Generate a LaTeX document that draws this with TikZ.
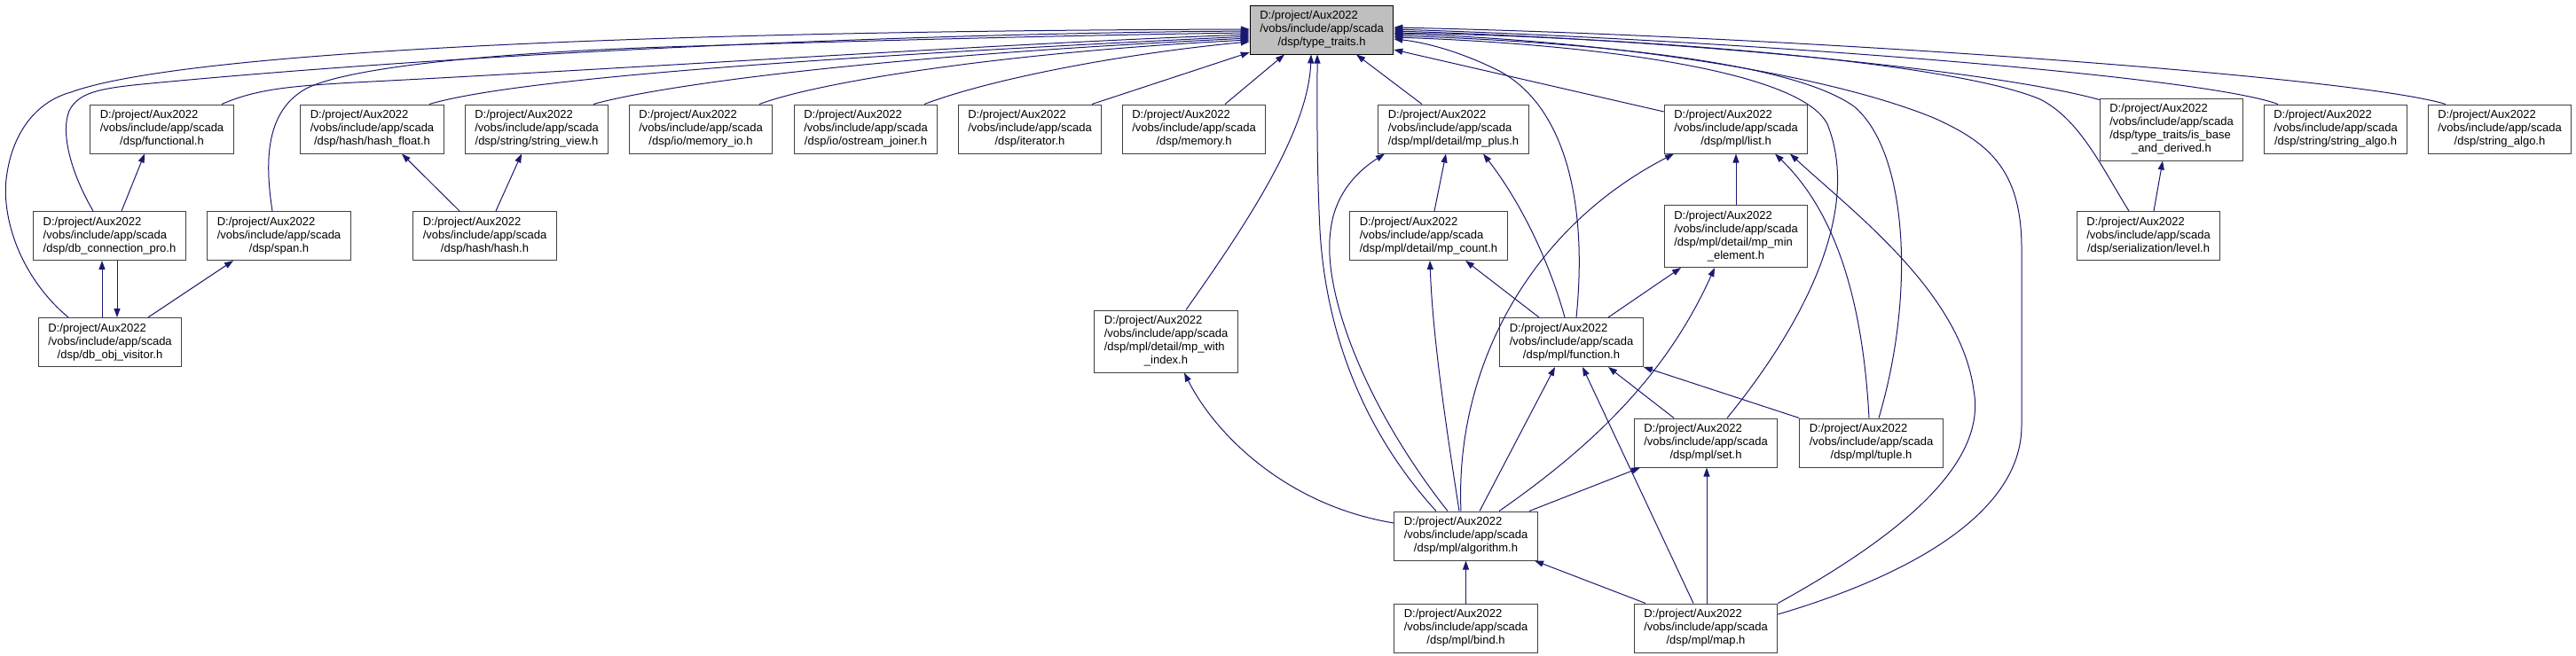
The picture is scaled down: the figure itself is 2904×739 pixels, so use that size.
\documentclass[tikz,border=0pt]{standalone}
\usepackage{fontspec}
\setmainfont{Liberation Sans}
\usetikzlibrary{arrows.meta}
\definecolor{edgeblue}{RGB}{25,25,112}
\definecolor{boxgray}{RGB}{64,64,64}
\definecolor{rootgray}{RGB}{191,191,191}
\newcommand{\incfile}[1]{\begin{tabular}{@{}l@{}}D:/project/Aux2022\\/vobs/include/app/scada\\\multicolumn{1}{@{}c@{}}{#1}\end{tabular}}
\newcommand{\incfilelong}[2]{\begin{tabular}{@{}l@{}}D:/project/Aux2022\\/vobs/include/app/scada\\#1\\\multicolumn{1}{@{}c@{}}{#2}\end{tabular}}
\begin{document}
\begin{tikzpicture}[x=1pt,y=-1pt,
  file/.style={draw=boxgray,line width=1pt,fill=white,inner xsep=11pt,inner ysep=5pt,minimum height=55pt,font=\fontsize{13}{15}\selectfont},
  root/.style={file,draw=black,fill=rootgray},
  inc/.style={edgeblue,line width=1pt,-{Triangle[length=10pt,width=7pt]}}]
\useasboundingbox (0,0) rectangle (2904,739);

\node[root] (typetraits) at (1490,33.5) {\incfile{/dsp/type\_traits.h}};
\node[file] (functional) at (182.5,145.5) {\incfile{/dsp/functional.h}};
\node[file] (hashfloat) at (419.5,145.5) {\incfile{/dsp/hash/hash\_float.h}};
\node[file] (stringview) at (605,145.5) {\incfile{/dsp/string/string\_view.h}};
\node[file] (memoryio) at (790,145.5) {\incfile{/dsp/io/memory\_io.h}};
\node[file] (ostreamjoiner) at (976,145.5) {\incfile{/dsp/io/ostream\_joiner.h}};
\node[file] (iterator) at (1161,145.5) {\incfile{/dsp/iterator.h}};
\node[file] (memory) at (1346,145.5) {\incfile{/dsp/memory.h}};
\node[file] (mpplus) at (1638.5,145.5) {\incfile{/dsp/mpl/detail/mp\_plus.h}};
\node[file] (list) at (1957,145.5) {\incfile{/dsp/mpl/list.h}};
\node[file] (isbase) at (2448,146) {\incfilelong{/dsp/type\_traits/is\_base}{\_and\_derived.h}};
\node[file] (stringalgos) at (2633,145.5) {\incfile{/dsp/string/string\_algo.h}};
\node[file] (stringalgo) at (2818,145.5) {\incfile{/dsp/string\_algo.h}};
\node[file] (dbconn) at (123.5,266) {\incfile{/dsp/db\_connection\_pro.h}};
\node[file] (span) at (314.5,266) {\incfile{/dsp/span.h}};
\node[file] (hash) at (546.5,266) {\incfile{/dsp/hash/hash.h}};
\node[file] (mpcount) at (1610.5,266) {\incfile{/dsp/mpl/detail/mp\_count.h}};
\node[file] (mpmin) at (1957,266.5) {\incfilelong{/dsp/mpl/detail/mp\_min}{\_element.h}};
\node[file] (level) at (2422,266) {\incfile{/dsp/serialization/level.h}};
\node[file] (dbvisitor) at (124,386) {\incfile{/dsp/db\_obj\_visitor.h}};
\node[file] (mpwith) at (1314.5,385) {\incfilelong{/dsp/mpl/detail/mp\_with}{\_index.h}};
\node[file] (function) at (1771.5,386) {\incfile{/dsp/mpl/function.h}};
\node[file] (set) at (1923,499.5) {\incfile{/dsp/mpl/set.h}};
\node[file] (tuple) at (2109.5,499.5) {\incfile{/dsp/mpl/tuple.h}};
\node[file] (algorithm) at (1652.5,604.5) {\incfile{/dsp/mpl/algorithm.h}};
\node[file] (bind) at (1652.5,708.5) {\incfile{/dsp/mpl/bind.h}};
\node[file] (map) at (1923,708.5) {\incfile{/dsp/mpl/map.h}};

\draw[inc] ([xshift=-47pt]dbvisitor.north) .. controls (20,310) and (0,240) .. (8,195) .. controls (15,150) and (40,115) .. (80,104) .. controls (200,60) and (700,35) .. ([yshift=0.5pt]typetraits.west);
\draw[inc] ([xshift=-18.5pt]dbconn.north) .. controls (80,195) and (68,150) .. (78,125) .. controls (88,105) and (110,100) .. (160,95) .. controls (500,62) and (1000,38) .. ([yshift=-1.5pt]typetraits.west);
\draw[inc] ([xshift=67.5pt]functional.north) .. controls (290,100) and (330,97) .. (400,93) .. controls (750,75) and (1150,48) .. ([yshift=-5.5pt]typetraits.west);
\draw[inc] ([xshift=-7.5pt]span.north) .. controls (298,180) and (300,125) .. (345,100) .. controls (400,72) and (600,58) .. (750,53) .. controls (1000,45) and (1250,39) .. ([yshift=-3.5pt]typetraits.west);
\draw[inc] ([xshift=64.5pt]hashfloat.north) .. controls (560,95) and (800,70) .. ([yshift=-7.5pt]typetraits.west);
\draw[inc] ([xshift=64pt]stringview.north) .. controls (730,100) and (950,65) .. ([yshift=-9.5pt]typetraits.west);
\draw[inc] ([xshift=66pt]memoryio.north) .. controls (930,90) and (1150,58) .. ([yshift=-11.5pt]typetraits.west);
\draw[inc] ([xshift=66pt]ostreamjoiner.north) .. controls (1120,88) and (1270,60) .. ([yshift=-13.5pt]typetraits.west);
\draw[inc] ([xshift=70pt]iterator.north) -- ([yshift=-25.5pt]typetraits.west);
\draw[inc] ([xshift=35pt]memory.north) -- ([xshift=-42pt]typetraits.south);
\draw[inc] ([xshift=22.5pt]mpwith.north) .. controls (1400,260) and (1475,150) .. ([xshift=-12pt]typetraits.south);
\draw[inc] ([xshift=-33.5pt]algorithm.north) .. controls (1540,490) and (1495,380) .. (1488,260) .. controls (1484,180) and (1485,110) .. ([xshift=-5pt]typetraits.south);
\draw[inc] ([xshift=-35.5pt]mpplus.north) -- ([xshift=39pt]typetraits.south);
\draw[inc] ([xshift=5.5pt]function.north) .. controls (1790,230) and (1765,120) .. (1690,80) .. controls (1640,55) and (1600,47) .. ([yshift=-10.5pt]typetraits.east);
\draw[inc] ([yshift=19.5pt]list.west) -- ([yshift=-22.5pt]typetraits.east);
\draw[inc] ([xshift=24pt]set.north) .. controls (2030,370) and (2100,240) .. (2060,140) .. controls (2030,80) and (1800,50) .. ([yshift=-8.5pt]typetraits.east);
\draw[inc] ([xshift=8.5pt]tuple.north) .. controls (2160,330) and (2150,170) .. (2090,120) .. controls (2020,70) and (1800,48) .. ([yshift=-6.5pt]typetraits.east);
\draw[inc] ([yshift=15.5pt]map.east) .. controls (2150,650) and (2279,580) .. (2279,480) -- (2279,280) .. controls (2279,190) and (2240,160) .. (2180,133) .. controls (2050,80) and (1800,45) .. ([yshift=-4.5pt]typetraits.east);
\draw[inc] ([xshift=-22pt]level.north) .. controls (2370,190) and (2345,135) .. (2300,112) .. controls (2200,70) and (1850,42) .. ([yshift=-3.5pt]typetraits.east);
\draw[inc] ([yshift=-2pt]isbase.north west) .. controls (2250,80) and (1900,45) .. ([yshift=-1.5pt]typetraits.east);
\draw[inc] ([xshift=-65pt]stringalgos.north) .. controls (2480,85) and (1950,45) .. ([yshift=0.5pt]typetraits.east);
\draw[inc] ([xshift=-61pt]stringalgo.north) .. controls (2650,85) and (2000,40) .. ([yshift=2.5pt]typetraits.east);

\draw[inc] ([xshift=13.5pt]dbconn.north) -- ([xshift=-19.5pt]functional.south);
\draw[inc] ([xshift=-9pt]dbvisitor.north) -- ([xshift=-8.5pt]dbconn.south);
\draw[inc] ([xshift=8.5pt]dbconn.south) -- ([xshift=8pt]dbvisitor.north);
\draw[inc] ([xshift=43pt]dbvisitor.north) -- ([xshift=-51.5pt]span.south);
\draw[inc] ([xshift=-28.5pt]hash.north) -- ([xshift=33.5pt]hashfloat.south);
\draw[inc] ([xshift=12.5pt]hash.north) -- ([xshift=-17pt]stringview.south);
\draw[inc] ([xshift=6pt]level.north) -- ([xshift=-10pt]isbase.south);

\draw[inc] ([xshift=6.5pt]mpcount.north) -- ([xshift=-8.5pt]mpplus.south);
\draw[inc] ([xshift=-7.5pt]function.north) .. controls (1745,290) and (1712,225) .. ([xshift=33.5pt]mpplus.south);
\draw[inc] ([xshift=-20.5pt]algorithm.north) .. controls (1540,460) and (1490,330) .. (1500,260) .. controls (1505,215) and (1535,190) .. ([xshift=-77.5pt]mpplus.south);
\draw[inc] ([xshift=-7.5pt]algorithm.north) .. controls (1630,480) and (1615,380) .. ([xshift=1.5pt]mpcount.south);
\draw[inc] ([xshift=-5.5pt]algorithm.north) .. controls (1640,420) and (1720,260) .. ([xshift=-70pt]list.south);
\draw[inc] (mpmin.north) -- (list.south);
\draw[inc] ([xshift=-36.5pt]function.north) -- ([xshift=41.5pt]mpcount.south);
\draw[inc] ([xshift=37.5pt]algorithm.north) .. controls (1800,500) and (1880,420) .. ([xshift=-24pt]mpmin.south);
\draw[inc] ([xshift=41.5pt]function.north) -- ([xshift=-62pt]mpmin.south);
\draw[inc] ([xshift=15.5pt]algorithm.north) -- ([xshift=-18.5pt]function.south);
\draw[inc] ([xshift=-14pt]map.north) -- ([xshift=12.5pt]function.south);
\draw[inc] ([xshift=-36pt]set.north) -- ([xshift=41.5pt]function.south);
\draw[inc] (tuple.north west) -- (function.south east);
\draw[inc] ([xshift=71.5pt]algorithm.north) -- ([xshift=-74pt]set.south);
\draw[inc] ([xshift=1pt]map.north) -- ([xshift=1pt]set.south);
\draw[inc] ([xshift=-68pt]map.north) -- ([xshift=77.5pt]algorithm.south);
\draw[inc] (bind.north) -- (algorithm.south);
\draw[inc] ([yshift=14.5pt]algorithm.west) .. controls (1450,570) and (1370,490) .. ([xshift=20.5pt]mpwith.south);
\draw[inc] ([xshift=-2.5pt]tuple.north) .. controls (2100,340) and (2070,240) .. ([xshift=44pt]list.south);
\draw[inc] (map.north east) .. controls (2150,600) and (2240,520) .. (2225,440) .. controls (2210,330) and (2090,240) .. ([xshift=61pt]list.south);
\end{tikzpicture}
\end{document}
